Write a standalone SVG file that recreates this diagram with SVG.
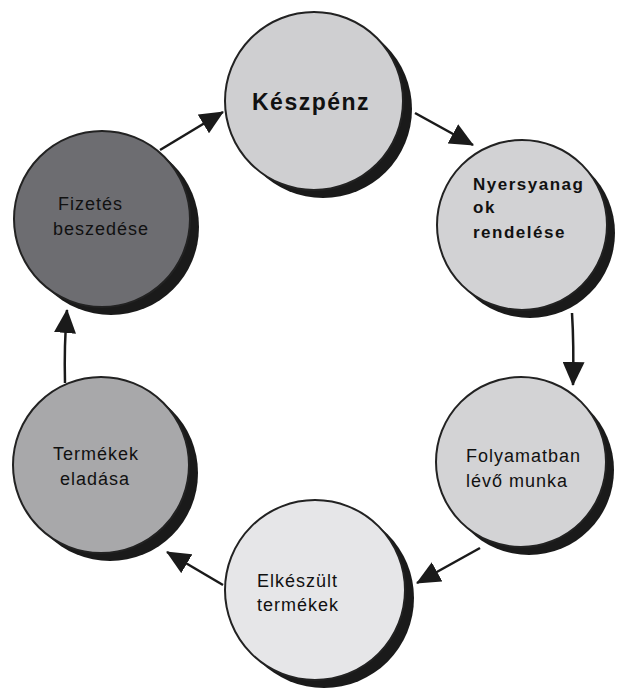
<svg xmlns="http://www.w3.org/2000/svg" width="619" height="690" viewBox="0 0 619 690">
<defs>
<marker id="arrow" markerWidth="24" markerHeight="22" refX="23" refY="11" orient="auto" markerUnits="userSpaceOnUse">
<path d="M0,0 L24,11 L0,22 Z" fill="#1a1a1a"/>
</marker>
<style>
.sh{fill:#1a1a1a}
.c{stroke:#222;stroke-width:2}
.t{font-family:"Liberation Sans",Arial,sans-serif;font-size:18px;letter-spacing:1px;fill:#111}
.b{font-weight:bold;font-size:17px;letter-spacing:1.5px}
.con{fill:none;stroke:#1a1a1a;stroke-width:2.5;marker-end:url(#arrow)}
</style>
</defs>
<rect width="619" height="690" fill="#ffffff"/>
<g id="connectors">
<path class="con" d="M160,150 L223,112"/>
<path class="con" d="M415,113 L473,145"/>
<path class="con" d="M572,313 Q574,345 573,385"/>
<path class="con" d="M480,548 L417,583"/>
<path class="con" d="M223,585 L167,552"/>
<path class="con" d="M65,383 Q64,345 67,310"/>
</g>
<g id="keszpenz">
<circle class="sh" cx="323" cy="109" r="89"/>
<circle class="c" cx="314" cy="101" r="89" fill="#cfcfd1"/>
<text class="t" x="252" y="110" style="font-size:23px;letter-spacing:1.5px;font-weight:bold">Készpénz</text>
</g>
<g id="nyersanyag">
<circle class="sh" cx="530" cy="233" r="85"/>
<circle class="c" cx="522" cy="225" r="85" fill="#d2d2d4"/>
<text class="t b" x="473" y="190">Nyersyanag</text>
<text class="t b" x="473" y="213">ok</text>
<text class="t b" x="473" y="238">rendelése</text>
</g>
<g id="folyamatban">
<circle class="sh" cx="529" cy="470" r="85"/>
<circle class="c" cx="521" cy="462" r="85" fill="#d3d3d5"/>
<text class="t" x="466" y="462">Folyamatban</text>
<text class="t" x="466" y="487">lévő munka</text>
</g>
<g id="elkeszult">
<circle class="sh" cx="324" cy="598" r="90"/>
<circle class="c" cx="315" cy="590" r="90" fill="#e6e6e8"/>
<text class="t" x="257" y="587">Elkészült</text>
<text class="t" x="257" y="611">termékek</text>
</g>
<g id="termekek-eladasa">
<circle class="sh" cx="110" cy="473" r="88"/>
<circle class="c" cx="101" cy="465" r="88" fill="#a8a8aa"/>
<text class="t" x="53" y="460">Termékek</text>
<text class="t" x="60" y="485">eladása</text>
</g>
<g id="fizetes-beszedese">
<circle class="sh" cx="111" cy="227" r="88"/>
<circle class="c" cx="102" cy="219" r="88" fill="#6d6d71"/>
<text class="t" x="58" y="210">Fizetés</text>
<text class="t" x="53" y="235">beszedése</text>
</g>
</svg>
